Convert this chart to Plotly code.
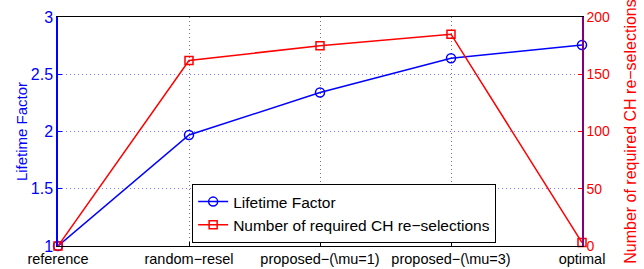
import plotly.graph_objects as go

categories = ["reference", "random\u2212resel", "proposed\u2212(\\mu=1)", "proposed\u2212(\\mu=3)", "optimal"]
lifetime_factor = [1.0, 1.97, 2.34, 2.64, 2.755]
reselections = [0, 162, 175, 185, 3]
left_ticks = [1, 1.5, 2, 2.5, 3]
right_ticks = [0, 50, 100, 150, 200]

xpos = list(range(len(categories)))
FONT = "Liberation Sans, Arial, sans-serif"

fig = go.Figure()
fig.add_trace(go.Scatter(
    x=xpos, y=lifetime_factor, name="Lifetime Factor", mode="lines+markers",
    line=dict(color="#0000ff", width=1.5),
    marker=dict(symbol="circle-open", size=9, color="#0000ff", line=dict(width=1.5)),
    yaxis="y", cliponaxis=False))
fig.add_trace(go.Scatter(
    x=xpos, y=reselections, name="Number of required CH re\u2212selections", mode="lines+markers",
    line=dict(color="#ff0000", width=1.5),
    marker=dict(symbol="square-open", size=8, color="#ff0000", line=dict(width=1.5)),
    yaxis="y2", cliponaxis=False))

fig.update_layout(
    width=644, height=269,
    margin=dict(l=58, r=62, t=17, b=23),
    paper_bgcolor="white", plot_bgcolor="white",
    font=dict(family=FONT, size=13, color="black"),
    xaxis=dict(range=[0, 4], tickmode="array", tickvals=xpos, ticktext=categories,
               automargin=False,
               showgrid=True, gridcolor="#777777", griddash="1px,3px", gridwidth=1,
               zeroline=False, showline=True, linecolor="black", linewidth=1,
               mirror=True, ticks="inside", ticklen=4, tickcolor="black",
               tickfont=dict(size=14.5, color="black")),
    yaxis=dict(range=[1, 3], tickmode="array", tickvals=left_ticks,
               ticktext=["1", "1.5", "2", "2.5", "3"], automargin=False,
               showgrid=True, gridcolor="#7777ff", griddash="1px,3px", gridwidth=1,
               zeroline=False, showline=True, linecolor="#0000ff", linewidth=1.5,
               ticks="inside", ticklen=4, tickcolor="#0000ff",
               tickfont=dict(size=16, color="#0000ff"),
               title=dict(text="Lifetime Factor", font=dict(size=15, color="#0000ff"), standoff=0)),
    yaxis2=dict(range=[0, 200], tickmode="array", tickvals=right_ticks, automargin=False,
                overlaying="y", side="right", showgrid=False, zeroline=False,
                showline=True, linecolor="#800080", linewidth=1.5,
                ticks="inside", ticklen=4, tickcolor="#ff0000",
                tickfont=dict(size=14, color="#ff0000"),
                title=dict(text="Number of required CH re\u2212selections",
                           font=dict(size=16, color="#ff0000"), standoff=16)),
    legend=dict(x=0.256, y=0.013, xanchor="left", yanchor="bottom",
                bgcolor="white", bordercolor="black", borderwidth=1,
                font=dict(size=15.5, color="black"), tracegroupgap=0,
                itemwidth=30),
    showlegend=True,
)

fig.write_html("out.html", config={"displayModeBar": False},
               post_script="document.body.style.margin='0';document.body.style.overflow='hidden';")
